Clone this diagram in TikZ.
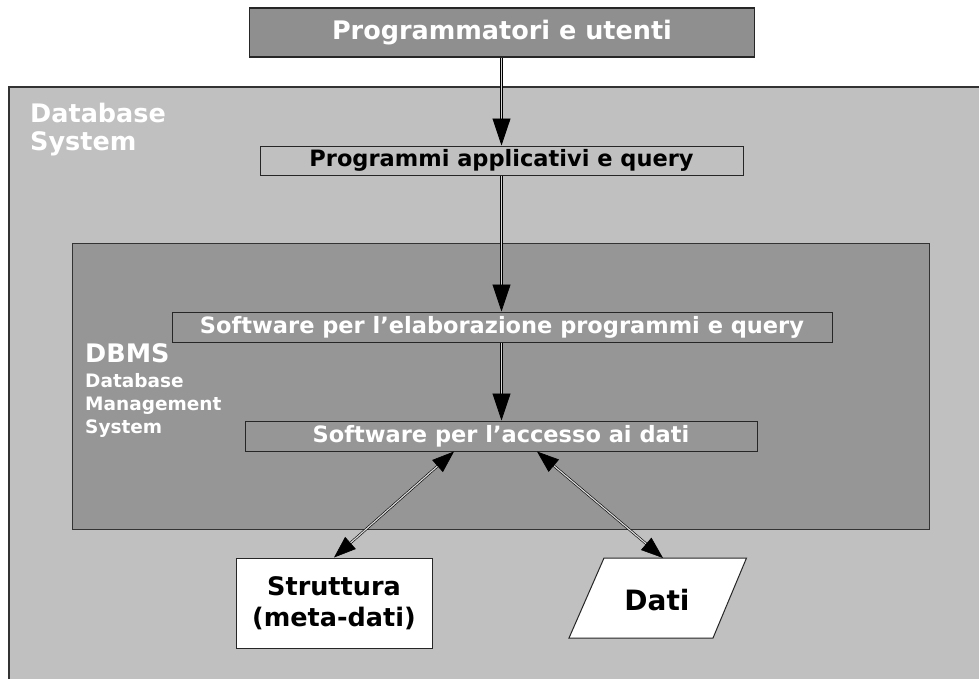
\documentclass[tikz,border=0pt]{standalone}
\usepackage{fontspec}
\setmainfont{DejaVu Sans}
\usetikzlibrary{arrows.meta,calc}
\definecolor{bgsys}{HTML}{C0C0C0}
\definecolor{bgdbms}{HTML}{969696}
\definecolor{bgtop}{HTML}{8F8F8F}
\definecolor{shaft}{HTML}{D8D8D8}
\newcommand\fontTitle{\fontsize{25.5}{30}\selectfont\bfseries}
\newcommand\fontMid{\fontsize{22.5}{27}\selectfont\bfseries}
\newcommand\fontSub{\fontsize{18.5}{23}\selectfont\bfseries}
\tikzset{
  container/.style={draw=black!80, line width=1.2pt, inner sep=0pt},
  stepbox/.style={draw=black!85, line width=1pt, inner sep=0pt, font=\fontMid},
  lbl/.style={inner sep=0pt, text=white},
  conn/.style={draw=black, line width=0.7pt, double=shaft, double distance=1.3pt,
    -{Triangle[length=27pt,width=18pt]}},
  conn2/.style={draw=black, line width=0.6pt, double=shaft, double distance=1.2pt,
    {Triangle[length=22pt,width=16pt]}-{Triangle[length=22pt,width=16pt]}}
}
\begin{document}
\begin{tikzpicture}[x=1pt,y=-1pt]
\useasboundingbox (0,0) rectangle (979,678);
\clip (0,0) rectangle (979,678);
\fill[white] (0,0) rectangle (979,678);
% Database System container
\node[container, fill=bgsys, minimum width=981pt, minimum height=603pt] (sys) at (499.5,388.5) {};
\node[lbl, anchor=base west, font=\fontTitle] (syslbl1) at (30,122) {Database};
\node[lbl, anchor=base west, font=\fontTitle] (syslbl2) at (30,150) {System};
% DBMS container
\node[container, line width=1pt, fill=bgdbms, minimum width=857pt, minimum height=286pt] (dbms) at (500.5,386) {};
\node[lbl, anchor=base west, font=\fontTitle] (dbmslbl) at (85,362) {DBMS};
\node[lbl, anchor=base west, font=\fontSub] (dbmsl1) at (85,387) {Database};
\node[lbl, anchor=base west, font=\fontSub] (dbmsl2) at (85,410) {Management};
\node[lbl, anchor=base west, font=\fontSub] (dbmsl3) at (85,433) {System};
% top box
\node[stepbox, line width=1.3pt, fill=bgtop, text=white, font=\fontTitle, minimum width=505pt, minimum height=49pt] (prog) at (502,32.5) {Programmatori e utenti};
% boxes
\node[stepbox, fill=bgsys, text=black, minimum width=483pt, minimum height=29pt] (app) at (501.5,160.5) {Programmi applicativi e query};
\node[stepbox, fill=bgdbms, text=white, minimum width=660pt, minimum height=30pt] (elab) at (502,327) {Software per l’elaborazione programmi e query};
\node[stepbox, fill=bgdbms, text=white, minimum width=512pt, minimum height=30pt] (acc) at (501,436) {Software per l’accesso ai dati};
\node[stepbox, fill=white, text=black, font=\fontsize{25.5}{31}\selectfont\bfseries, align=center, minimum width=196pt, minimum height=90pt] (strut) at (334,603) {Struttura\\(meta-dati)};
% Dati parallelogram
\draw[fill=white, draw=black!85, line width=1pt] (604,558) -- (746.5,558) -- (713,638) -- (569,638) -- cycle;
\node[inner sep=0pt, font=\fontsize{28}{32}\selectfont\bfseries] (dati) at (657,600) {Dati};
\coordinate (datitop) at (663,558);
% connectors
\draw[conn] (prog.south -| app.north) -- (app.north);
\draw[conn] (app.south) -- (app.south |- elab.north);
\draw[conn] (app.south |- elab.south) -- (app.south |- acc.north);
\draw[conn2] (strut.north) -- ([xshift=-47pt]acc.south);
\draw[conn2] ([xshift=36pt]acc.south) -- (datitop);
\end{tikzpicture}
\end{document}
